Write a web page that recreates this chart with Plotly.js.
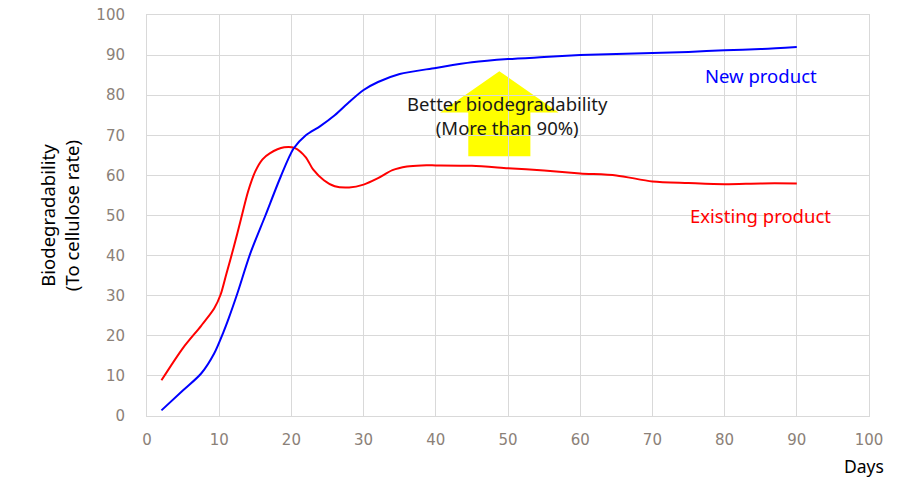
<!DOCTYPE html>
<html>
<head>
<meta charset="utf-8">
<script src="https://cdn.plot.ly/plotly-3.0.1.min.js"></script>
<style>html,body{margin:0;padding:0;background:#fff;}#chart{width:899px;height:491px;}</style>
</head>
<body>
<div id="chart"></div>
<script>
// Existing product (red)
const existingDays = [2, 5, 7.5, 9.3, 10.2, 11, 12, 13, 14, 15, 16, 17, 19, 20.5, 22, 23, 24.5, 26, 28, 30, 32, 34, 36, 38, 40, 45, 50, 55, 60, 65, 70, 75, 80, 85, 90];
const existingVals = [8.9, 17, 22.5, 26.8, 30.3, 35.5, 42, 49, 56, 61, 64, 65.5, 67, 66.8, 64.5, 61.5, 58.8, 57.3, 57, 57.7, 59.3, 61.3, 62.2, 62.5, 62.5, 62.4, 61.8, 61.2, 60.5, 60, 58.5, 58.1, 57.8, 58, 58];
// New product (blue)
const newDays = [2, 5, 7.5, 9.3, 10.6, 11.3, 12.5, 14.3, 16.4, 18.5, 20.3, 22, 24, 26, 28, 30, 32, 35, 40, 45, 50, 55, 60, 65, 70, 75, 80, 85, 90];
const newVals = [1.4, 6.4, 10.6, 15.6, 21, 24.3, 30.5, 40.5, 50, 59.6, 66.7, 70, 72.3, 75, 78.3, 81.3, 83.3, 85.3, 86.8, 88.2, 89, 89.5, 90, 90.3, 90.5, 90.8, 91.2, 91.5, 92];
// Axis ticks
const xTicks = [0, 10, 20, 30, 40, 50, 60, 70, 80, 90, 100];
const yTicks = [0, 10, 20, 30, 40, 50, 60, 70, 80, 90, 100];
// Highlight arrow outline (data coordinates)
const arrowX = [44.5, 44.5, 40.6, 48.8, 57.0, 53.1, 53.1];
const arrowY = [64.8, 75.7, 75.7, 86.0, 75.7, 75.7, 64.8];

const arrowPath = arrowX.map((x, i) => (i === 0 ? 'M' : 'L') + x + ',' + arrowY[i]).join(' ') + ' Z';

const tickFont = {family: 'DejaVu Sans', size: 15, color: '#8b8178'};
const txtFont = 'Noto Sans';

const traces = [
  {x: existingDays, y: existingVals, mode: 'lines', line: {color: '#ff0000', width: 2, shape: 'spline', smoothing: 0.8}, hoverinfo: 'skip'},
  {x: newDays, y: newVals, mode: 'lines', line: {color: '#0000ff', width: 2, shape: 'spline', smoothing: 0.8}, hoverinfo: 'skip'}
];

const layout = {
  width: 899, height: 491,
  margin: {l: 146.5, r: 30, t: 14.7, b: 75.3},
  paper_bgcolor: '#ffffff', plot_bgcolor: '#ffffff',
  showlegend: false,
  xaxis: {
    range: [0, 100], tickvals: xTicks, ticktext: xTicks.map(String),
    showgrid: true, gridcolor: '#d9d9d9', gridwidth: 1,
    showline: true, linecolor: '#d9d9d9', linewidth: 1, mirror: true,
    zeroline: false, ticks: 'outside', ticklen: 10, tickcolor: 'rgba(0,0,0,0)',
    tickfont: tickFont, fixedrange: true
  },
  yaxis: {
    range: [0, 100], tickvals: yTicks, ticktext: yTicks.map(String),
    showgrid: true, gridcolor: '#d9d9d9', gridwidth: 1,
    showline: true, linecolor: '#d9d9d9', linewidth: 1, mirror: true,
    zeroline: false, ticks: 'outside', ticklen: 18, tickcolor: 'rgba(0,0,0,0)',
    tickfont: tickFont, fixedrange: true
  },
  shapes: [
    {type: 'path', path: arrowPath, xref: 'x', yref: 'y', fillcolor: '#ffff00', line: {width: 0}, layer: 'below'}
  ],
  annotations: [
    {text: 'New product', x: 85, y: 85, xref: 'x', yref: 'y', xanchor: 'center', yanchor: 'middle', showarrow: false, font: {family: txtFont, size: 18.5, color: '#0000ff'}},
    {text: 'Existing product', x: 85, y: 50, xref: 'x', yref: 'y', xanchor: 'center', yanchor: 'middle', showarrow: false, font: {family: txtFont, size: 18.5, color: '#ff0000'}},
    {text: 'Better biodegradability<br>(More than 90%)', x: 49.9, y: 75, xref: 'x', yref: 'y', xanchor: 'center', yanchor: 'middle', showarrow: false, font: {family: txtFont, size: 18.5, color: '#1a1a1a'}},
    {text: 'Biodegradability<br>(To cellulose rate)', x: -0.121, y: 0.5, xref: 'paper', yref: 'paper', xanchor: 'center', yanchor: 'middle', textangle: -90, showarrow: false, font: {family: txtFont, size: 18.5, color: '#000000'}},
    {text: 'Days', x: 0.993, y: -0.125, xref: 'paper', yref: 'paper', xanchor: 'center', yanchor: 'middle', showarrow: false, font: {family: txtFont, size: 17.5, color: '#000000'}}
  ]
};

Plotly.newPlot('chart', traces, layout, {displayModeBar: false, staticPlot: true});
</script>
</body>
</html>
